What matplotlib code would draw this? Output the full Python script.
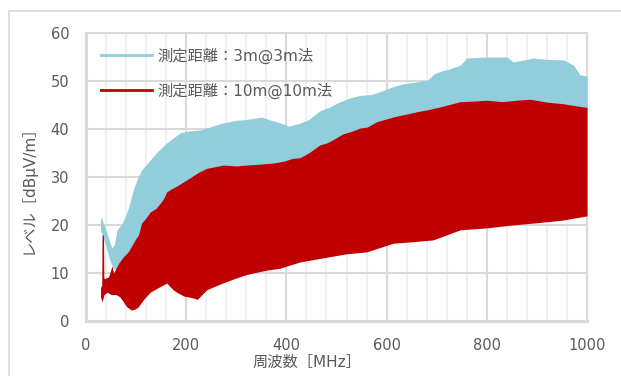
import matplotlib.pyplot as plt
import matplotlib.patches as patches
from matplotlib.lines import Line2D
import numpy as np

plt.rcParams['font.family'] = ['DejaVu Sans', 'Noto Sans CJK JP']

# 3m method: envelope of the measured trace (upper / lower)
blue_top_f = [29, 31, 34, 38, 42, 47, 52, 57, 62, 70, 78, 86, 94, 102, 111, 120, 131, 145, 161, 175, 188,
              205, 228, 250, 274, 300, 321, 351, 370, 387, 405, 427, 445, 467, 487, 501, 525, 547, 570, 593,
              612, 633, 660, 681, 695, 707, 725, 747, 760, 800, 840, 853, 880, 893, 920, 953, 973, 986, 1000]
blue_top_v = [21.0, 21.7, 20.5, 19.5, 18.3, 16.5, 15.2, 16.0, 19.0, 20.0, 21.7, 24.0, 27.3, 29.5, 31.5,
              32.5, 33.9, 35.5, 37.1, 38.2, 39.2, 39.6, 39.8, 40.5, 41.3, 41.8, 42.0, 42.5, 41.8, 41.3,
              40.6, 41.2, 42.0, 43.8, 44.6, 45.4, 46.4, 47.0, 47.2, 48.0, 48.8, 49.4, 49.8, 50.2, 51.5,
              52.0, 52.5, 53.3, 54.8, 55.0, 55.0, 54.0, 54.5, 54.8, 54.5, 54.4, 53.3, 51.3, 51.0]
blue_bot_f = [29, 34, 40, 45, 50, 55, 62, 70, 80, 100, 150, 200, 300, 400, 600, 800, 1000]
blue_bot_v = [19.0, 17.5, 15.5, 13.5, 12.0, 11.0, 10.5, 10.5, 11.0, 12.0, 14.0, 15.0, 17.0, 20.0, 25.0, 28.0, 30.0]

# 10m method
red_top_f = [29, 31.5, 32, 35, 35.5, 37, 45, 52, 55, 65, 74, 85, 98, 105, 111, 120, 128, 140, 148, 155, 161,
             170, 181, 195, 207, 225, 241, 260, 274, 300, 321, 350, 373, 395, 413, 427, 447, 467, 481, 497,
             513, 530, 547, 561, 580, 613, 661, 681, 707, 747, 772, 800, 830, 860, 886, 920, 950, 980, 1000]
red_top_v = [7.0, 7.5, 17.9, 17.9, 9.0, 8.8, 9.2, 11.5, 10.0, 12.0, 13.3, 14.5, 16.9, 18.0, 20.4, 21.5, 22.7,
             23.5, 24.5, 25.5, 26.9, 27.5, 28.1, 29.0, 29.8, 31.0, 31.8, 32.2, 32.5, 32.3, 32.5, 32.7, 32.9,
             33.3, 33.9, 34.0, 35.2, 36.7, 37.1, 38.0, 39.0, 39.5, 40.2, 40.4, 41.5, 42.5, 43.6, 44.0, 44.6,
             45.7, 45.8, 46.0, 45.7, 46.0, 46.2, 45.6, 45.3, 44.8, 44.5]
red_bot_f = [29, 32, 36, 42, 50, 60, 68, 81, 90, 96, 104, 115, 128, 145, 161, 174, 181, 195, 205, 214, 222,
             241, 254, 275, 293, 315, 333, 361, 387, 427, 481, 520, 560, 613, 650, 693, 747, 800, 850, 893,
             950, 1000]
red_bot_v = [5.0, 4.0, 5.5, 6.0, 5.5, 5.5, 5.0, 3.0, 2.3, 2.4, 2.9, 4.5, 6.0, 7.0, 7.9, 6.5, 6.0, 5.2, 5.0,
             4.8, 4.5, 6.5, 7.1, 8.0, 8.7, 9.5, 10.0, 10.6, 11.0, 12.3, 13.3, 14.0, 14.4, 16.2, 16.5, 16.9,
             19.0, 19.4, 20.0, 20.4, 21.0, 21.9]

labels = ['測定距離：3m@3m法', '測定距離：10m@10m法']
colors = ['#92cddc', '#c00000']

fig = plt.figure(figsize=(6.21, 3.76), dpi=100)
fig.patches.append(patches.Rectangle((9 / 621, -0.1), 1.2, 1 - 11 / 376 + 0.1, transform=fig.transFigure,
                                     fill=False, edgecolor='#d9d9d9', linewidth=1.2))
ax = fig.add_axes([86 / 621, 1 - 321 / 376, 501 / 621, 288 / 376])

grid_f = np.linspace(29, 1000, 4000)
bt = np.interp(grid_f, blue_top_f, blue_top_v)
bb = np.interp(grid_f, blue_bot_f, blue_bot_v)
rt = np.interp(grid_f, red_top_f, red_top_v)
rb = np.interp(grid_f, red_bot_f, red_bot_v)
ax.fill_between(grid_f, bb, bt, color=colors[0], linewidth=0, zorder=3)
ax.fill_between(grid_f, rb, rt, color=colors[1], linewidth=0, zorder=4)

ax.set_xlim(0, 1000)
ax.set_ylim(0, 60)
ax.set_xticks(np.arange(0, 1001, 200))
ax.set_yticks(np.arange(0, 61, 10))
ax.set_xticks(np.arange(0, 1001, 40), minor=True)
ax.grid(which='major', color='#d9d9d9', linewidth=1.5, zorder=1)
ax.grid(which='minor', axis='x', color='#eaf1f8', linewidth=1.5, zorder=0)
ax.set_axisbelow(True)
for s in ax.spines.values():
    s.set_color('#d9d9d9')
    s.set_linewidth(1.5)
ax.spines['left'].set_linewidth(2.2)
ax.spines['bottom'].set_linewidth(2.2)
ax.tick_params(which='both', length=0, labelsize=10.5, labelcolor='#595959')
ax.tick_params(axis='y', pad=12)
ax.tick_params(axis='x', pad=12)

ax.set_xlabel('周波数［MHz］', fontsize=11, color='#595959')
ax.xaxis.set_label_coords((307 - 86) / 501, (321 - 362) / 288)
ax.xaxis.label.set_va('center')
ax.set_ylabel('レベル［dBμV/m］', fontsize=11, color='#595959')
ax.yaxis.set_label_coords((28 - 86) / 501, (321 - 186) / 288)
ax.yaxis.label.set_va('center')

handles = [Line2D([], [], color=c, linewidth=2) for c in colors]
leg = ax.legend(handles, labels, loc='upper left', bbox_to_anchor=(0.0, 1.0), frameon=False,
                fontsize=11, handlelength=3.4, handletextpad=0.35, labelspacing=1.25, borderaxespad=0.55)
for t in leg.get_texts():
    t.set_color('#595959')

plt.savefig('out.png')
plt.close()
